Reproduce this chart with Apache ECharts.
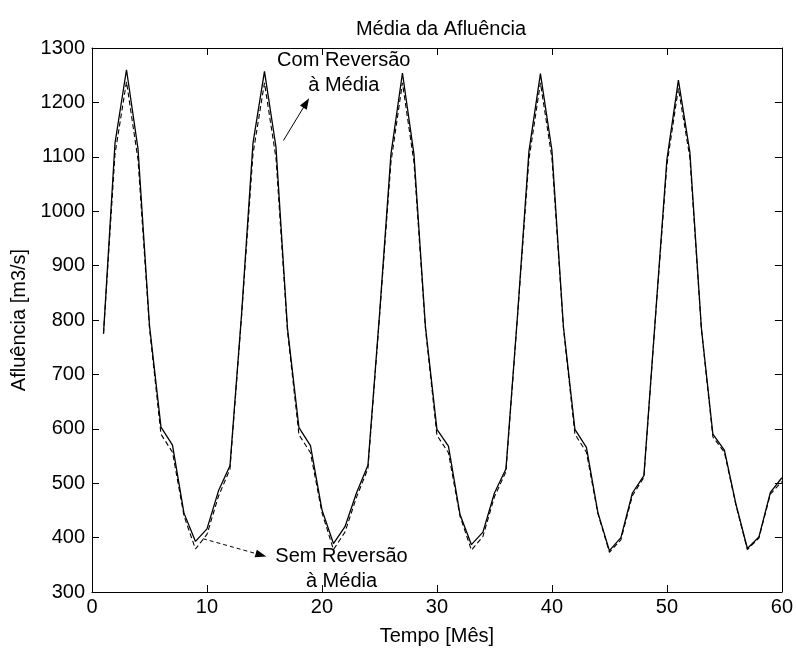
<!DOCTYPE html>
<html>
<head>
<meta charset="utf-8">
<script src="https://cdn.jsdelivr.net/npm/echarts@6/dist/echarts.min.js"></script>
<style>
html,body{margin:0;padding:0;background:#fff;}
#chart{width:796px;height:651px;}
</style>
</head>
<body>
<div id="chart"></div>
<script>
// Months 1..60
const months = [];
for (let i = 1; i <= 60; i++) months.push(i);

// "Com Reversão à Média" (solid)
const comReversao = [
  775, 1125, 1260, 1115, 790, 603, 570, 445, 393, 416, 486, 532,
  808, 1125, 1257, 1118, 785, 602, 569, 451, 389, 420, 482, 533,
  808, 1105, 1254, 1105, 788, 599, 568, 443, 387, 410, 482, 526,
  806, 1110, 1253, 1112, 788, 599, 566, 446, 376, 400, 482, 514,
  805, 1095, 1241, 1108, 785, 590, 561, 462, 380, 401, 483, 510
];

// "Sem Reversão à Média" (dashed)
const semReversao = [
  775, 1105, 1238, 1095, 785, 590, 557, 440, 379, 406, 476, 526,
  805, 1105, 1236, 1098, 780, 589, 556, 446, 378, 410, 474, 527,
  805, 1090, 1236, 1090, 784, 588, 556, 440, 377, 402, 475, 521,
  804, 1095, 1236, 1098, 785, 590, 557, 444, 373, 396, 477, 511,
  803, 1085, 1226, 1098, 783, 585, 557, 460, 378, 399, 480, 503
];

const title = 'Média da Afluência';
const xName = 'Tempo [Mês]';
const yName = 'Afluência [m3/s]';
const xTicks = [0, 10, 20, 30, 40, 50, 60];
const yTicks = [300, 400, 500, 600, 700, 800, 900, 1000, 1100, 1200, 1300];

const comLabel = 'Com Reversão\nà Média';
const semLabel = 'Sem Reversão\nà Média';
const comLabelPos = [21.9, 1254];
const semLabelPos = [21.7, 342];
const comArrow = [[16.65, 1130], [18.63, 1199]];
const semArrow = [[9.65, 398], [14.7, 368]];

const FONT = 'Liberation Sans, Arial, sans-serif';
const chart = echarts.init(document.getElementById('chart'), null, {renderer: 'canvas'});

function pair(arr) { return arr.map((v, i) => [months[i], v]); }

const axisCommonX = {
  type: 'value', min: xTicks[0], max: xTicks[xTicks.length - 1], interval: 10,
  splitLine: {show: false},
  axisLine: {show: true, onZero: false, lineStyle: {color: '#000', width: 1}},
  axisTick: {show: true, inside: true, length: 7, lineStyle: {color: '#000'}}
};
const axisCommonY = {
  type: 'value', min: yTicks[0], max: yTicks[yTicks.length - 1], interval: 100,
  splitLine: {show: false},
  axisLine: {show: true, onZero: false, lineStyle: {color: '#000', width: 1}},
  axisTick: {show: true, inside: true, length: 7, lineStyle: {color: '#000'}}
};

chart.setOption({
  backgroundColor: '#fff',
  animation: false,
  title: {
    text: title, left: 436, top: 14, textAlign: 'center',
    textStyle: {fontFamily: FONT, fontSize: 20, fontWeight: 'normal', color: '#000'}
  },
  grid: {left: 92, right: 10, top: 48, bottom: 55.5, containLabel: false},
  xAxis: [
    Object.assign({}, axisCommonX, {
      position: 'bottom',
      name: xName, nameLocation: 'middle', nameGap: 34,
      nameTextStyle: {fontFamily: FONT, fontSize: 20, color: '#000'},
      axisLabel: {fontFamily: FONT, fontSize: 20, color: '#000', margin: 5,
                  formatter: v => String(v)}
    }),
    Object.assign({}, axisCommonX, {position: 'top', axisLabel: {show: false}})
  ],
  yAxis: [
    Object.assign({}, axisCommonY, {
      position: 'left',
      name: yName, nameLocation: 'middle', nameGap: 61, nameRotate: 90,
      nameTextStyle: {fontFamily: FONT, fontSize: 20, color: '#000'},
      axisLabel: {fontFamily: FONT, fontSize: 20, color: '#000', margin: 7,
                  formatter: v => String(v)}
    }),
    Object.assign({}, axisCommonY, {position: 'right', axisLabel: {show: false}})
  ],
  series: [
    {
      name: 'Sem Reversão à Média', type: 'line', xAxisIndex: 0, yAxisIndex: 0,
      data: pair(semReversao), showSymbol: false, symbol: 'none',
      lineStyle: {color: '#000', width: 1.1, type: [5, 3]},
      markLine: {
        silent: true, symbol: ['none', 'triangle'], symbolSize: [8, 11],
        label: {show: false},
        lineStyle: {color: '#000', width: 1, type: [4, 3]},
        data: [[{coord: semArrow[0]}, {coord: semArrow[1]}]]
      },
      markPoint: {
        silent: true, symbol: 'circle', symbolSize: 1,
        itemStyle: {color: 'rgba(0,0,0,0)'},
        label: {show: true, position: 'inside', formatter: semLabel, align: 'center',
                fontFamily: FONT, fontSize: 20, lineHeight: 25, color: '#000'},
        data: [{coord: semLabelPos}]
      }
    },
    {
      name: 'Com Reversão à Média', type: 'line', xAxisIndex: 0, yAxisIndex: 0,
      data: pair(comReversao), showSymbol: false, symbol: 'none',
      lineStyle: {color: '#000', width: 1.3, type: 'solid'},
      markLine: {
        silent: true, symbol: ['none', 'triangle'], symbolSize: [8, 11],
        label: {show: false},
        lineStyle: {color: '#000', width: 1, type: 'solid'},
        data: [[{coord: comArrow[0]}, {coord: comArrow[1]}]]
      },
      markPoint: {
        silent: true, symbol: 'circle', symbolSize: 1,
        itemStyle: {color: 'rgba(0,0,0,0)'},
        label: {show: true, position: 'inside', formatter: comLabel, align: 'center',
                fontFamily: FONT, fontSize: 20, lineHeight: 25, color: '#000'},
        data: [{coord: comLabelPos}]
      }
    }
  ]
});
</script>
</body>
</html>
